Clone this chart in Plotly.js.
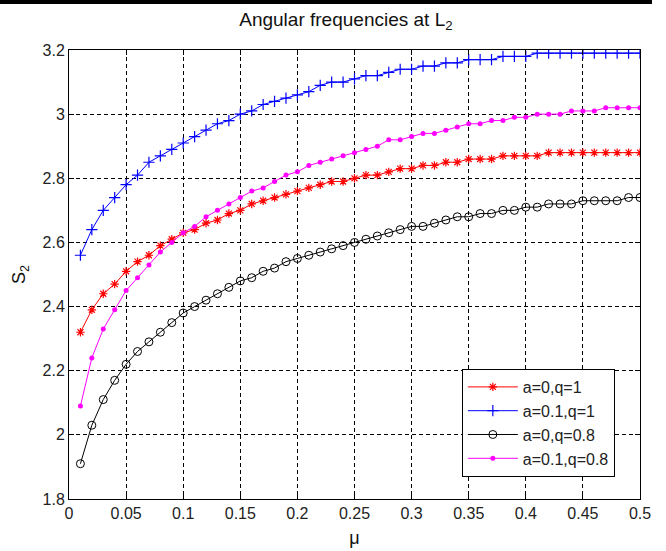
<!DOCTYPE html>
<html>
<head>
<meta charset="utf-8">
<script src="https://cdn.plot.ly/plotly-3.0.1.min.js"></script>
<style>html,body{margin:0;padding:0;background:#fff;}#chart{width:666px;height:551px;}</style>
</head>
<body>
<div id="chart"></div>
<script>
const mu = [0.01,0.02,0.03,0.04,0.05,0.06,0.07,0.08,0.09,0.10,
            0.11,0.12,0.13,0.14,0.15,0.16,0.17,0.18,0.19,0.20,
            0.21,0.22,0.23,0.24,0.25,0.26,0.27,0.28,0.29,0.30,
            0.31,0.32,0.33,0.34,0.35,0.36,0.37,0.38,0.39,0.40,
            0.41,0.42,0.43,0.44,0.45,0.46,0.47,0.48,0.49,0.50];

const s2_a0_q1 = [2.32,2.39,2.44,2.47,2.51,2.54,2.56,2.59,2.61,2.63,
                  2.64,2.66,2.67,2.69,2.70,2.72,2.73,2.74,2.75,2.76,
                  2.77,2.78,2.79,2.79,2.80,2.81,2.81,2.82,2.83,2.83,
                  2.84,2.84,2.85,2.85,2.86,2.86,2.86,2.87,2.87,2.87,
                  2.87,2.88,2.88,2.88,2.88,2.88,2.88,2.88,2.88,2.88];

const s2_a01_q1 = [2.56,2.64,2.70,2.74,2.78,2.81,2.85,2.87,2.89,2.91,
                   2.93,2.95,2.97,2.98,3.00,3.01,3.03,3.04,3.05,3.06,
                   3.07,3.09,3.10,3.10,3.11,3.12,3.12,3.13,3.14,3.14,
                   3.15,3.15,3.16,3.16,3.17,3.17,3.17,3.18,3.18,3.18,
                   3.19,3.19,3.19,3.19,3.19,3.19,3.19,3.19,3.19,3.19];

const s2_a0_q08 = [1.91,2.03,2.11,2.17,2.22,2.26,2.29,2.32,2.35,2.38,
                   2.40,2.42,2.44,2.46,2.48,2.49,2.51,2.52,2.54,2.55,
                   2.56,2.57,2.58,2.59,2.60,2.61,2.62,2.63,2.64,2.65,
                   2.65,2.66,2.67,2.68,2.68,2.69,2.69,2.70,2.70,2.71,
                   2.71,2.72,2.72,2.72,2.73,2.73,2.73,2.73,2.74,2.74];

const s2_a01_q08 = [2.09,2.24,2.33,2.39,2.45,2.49,2.53,2.57,2.60,2.63,
                    2.65,2.68,2.70,2.72,2.74,2.76,2.77,2.79,2.81,2.82,
                    2.84,2.85,2.86,2.87,2.88,2.89,2.90,2.92,2.92,2.93,
                    2.94,2.94,2.95,2.96,2.97,2.97,2.98,2.98,2.99,2.99,
                    3.00,3.00,3.00,3.01,3.01,3.01,3.02,3.02,3.02,3.02];

const seriesNames = ['a=0,q=1','a=0.1,q=1','a=0,q=0.8','a=0.1,q=0.8'];
const xTickVals = [0,0.05,0.1,0.15,0.2,0.25,0.3,0.35,0.4,0.45,0.5];
const xTickText = ['0','0.05','0.1','0.15','0.2','0.25','0.3','0.35','0.4','0.45','0.5'];
const yTickVals = [1.8,2,2.2,2.4,2.6,2.8,3,3.2];
const yTickText = ['1.8','2','2.2','2.4','2.6','2.8','3','3.2'];

const FONT = 'Liberation Sans, Arial, sans-serif';

const traces = [
  {x: mu, y: s2_a0_q1, name: seriesNames[0], mode: 'lines+markers',
   line: {color: '#ff0000', width: 1},
   marker: {symbol: 'asterisk-open', size: 7, color: '#ff0000', line: {color: '#ff0000', width: 1.2}}},
  {x: mu, y: s2_a01_q1, name: seriesNames[1], mode: 'lines+markers',
   line: {color: '#0000ff', width: 1},
   marker: {symbol: 'cross-thin-open', size: 8, color: '#0000ff', line: {color: '#0000ff', width: 1.2}}},
  {x: mu, y: s2_a0_q08, name: seriesNames[2], mode: 'lines+markers',
   line: {color: '#000000', width: 1},
   marker: {symbol: 'circle-open', size: 8, color: '#000000', line: {color: '#000000', width: 1}}},
  {x: mu, y: s2_a01_q08, name: seriesNames[3], mode: 'lines+markers',
   line: {color: '#ff00ff', width: 1},
   marker: {symbol: 'circle', size: 5, color: '#ff00ff'}}
];

const axisCommon = {
  showline: true, linecolor: '#000', linewidth: 1, mirror: 'ticks',
  ticks: 'inside', ticklen: 5, tickcolor: '#000', tickwidth: 1,
  showgrid: true, gridcolor: '#000', gridwidth: 1, griddash: '4px,3px',
  zeroline: false,
  tickfont: {family: FONT, size: 16, color: '#222'}
};

const layout = {
  width: 666, height: 551,
  margin: {l: 69, r: 26, t: 50, b: 52},
  paper_bgcolor: '#fff', plot_bgcolor: '#fff',
  showlegend: true,
  title: {text: 'Angular frequencies at L<sub>2</sub>', font: {family: FONT, size: 19, color: '#111'},
          x: 0.485, xref: 'paper', xanchor: 'center', y: 0.965, yref: 'container', yanchor: 'middle'},
  xaxis: Object.assign({}, axisCommon, {
    range: [0, 0.5], tickmode: 'array', tickvals: xTickVals, ticktext: xTickText,
    title: {text: 'μ', font: {family: FONT, size: 18, color: '#111'}, standoff: 10}
  }),
  yaxis: Object.assign({}, axisCommon, {
    range: [1.8, 3.2], tickmode: 'array', tickvals: yTickVals, ticktext: yTickText,
    title: {text: 'S<sub>2</sub>', font: {family: FONT, size: 18, color: '#111'}, standoff: 12}
  }),
  legend: {
    x: 0.688, y: 0.049, xanchor: 'left', yanchor: 'bottom',
    bgcolor: '#fff', bordercolor: '#000', borderwidth: 1,
    font: {family: FONT, size: 16, color: '#222'},
    tracegroupgap: 0, itemwidth: 50
  },
  shapes: [
    {type: 'rect', xref: 'paper', yref: 'paper', x0: -0.121, x1: 1.021, y0: 1.1025, y1: 1.12,
     fillcolor: '#000', line: {width: 0}, layer: 'above'}
  ]
};

Plotly.newPlot('chart', traces, layout, {displayModeBar: false, staticPlot: true});
</script>
</body>
</html>
